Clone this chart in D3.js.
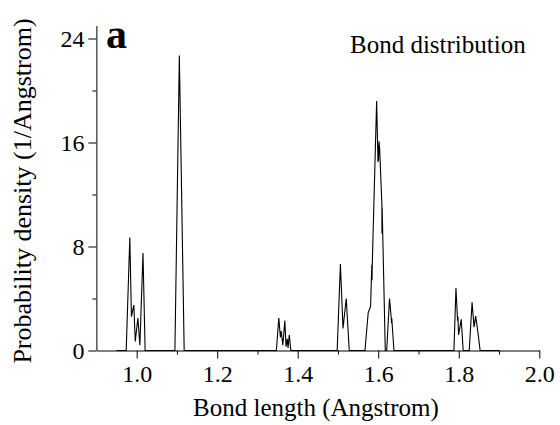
<!DOCTYPE html>
<html>
<head>
<meta charset="utf-8">
<script src="https://cdn.jsdelivr.net/npm/d3@7"></script>
<style>
  html, body { margin: 0; padding: 0; background: #fff; }
  svg { display: block; }
  text { font-family: "Liberation Serif", "Times New Roman", serif; fill: #000; }
</style>
</head>
<body>
<svg id="chart" width="560" height="425"></svg>
<script>
// ---- data ----
const bondLength = [
  0.95, 0.974, 0.983, 0.987, 0.993, 0.9965, 1.003, 1.008, 1.0157, 1.021,
  1.095, 1.106, 1.118,
  1.347, 1.353, 1.357, 1.359, 1.363, 1.368, 1.371, 1.374, 1.376, 1.379, 1.383,
  1.498, 1.506, 1.5125, 1.5205, 1.528,
  1.567, 1.575, 1.581, 1.584, 1.5845, 1.585, 1.596, 1.5994, 1.6003, 1.6006, 1.602, 1.6035, 1.609, 1.6093, 1.6097, 1.6175,
  1.621, 1.628, 1.6325, 1.633, 1.6335, 1.639,
  1.788, 1.793, 1.797, 1.798, 1.7995, 1.806, 1.811,
  1.826, 1.833, 1.838, 1.842, 1.848, 1.853, 1.90
];
const density = [
  0, 0, 8.7, 2.6, 3.5, 0.7, 2.5, 0.4, 7.5, 0,
  0, 22.7, 0,
  0, 2.5, 1.0, 1.5, 0.4, 2.3, 0.3, 0.9, 0.2, 1.2, 0,
  0, 6.65, 1.7, 4.0, 0,
  0, 2.9, 3.4, 6.6, 5.4, 6.4, 19.2, 14.5, 15.8, 14.6, 16.1, 15.5, 11.3, 9.0, 11.0, 0,
  0, 4.0, 2.4, 2.1, 2.5, 0,
  0, 4.8, 2.3, 2.6, 1.2, 2.4, 0,
  0, 3.7, 1.8, 2.65, 1.3, 0, 0
];
const xMajorTicks = [1.0, 1.2, 1.4, 1.6, 1.8, 2.0];
const xMinorTicks = [1.1, 1.3, 1.5, 1.7, 1.9];
const yMajorTicks = [0, 8, 16, 24];
const yMinorTicks = [4, 12, 20];
const xTitle = "Bond length (Angstrom)";
const yTitle = "Probability density (1/Angstrom)";
const panelLabel = "a";
const legendText = "Bond distribution";

// ---- layout ----
const svg = d3.select("#chart");
const x = d3.scaleLinear().domain([0.9, 2.0]).range([96.4, 539.3]);
const y = d3.scaleLinear().domain([0, 25]).range([350.5, 25.5]);

svg.append("rect").attr("width", 560).attr("height", 425).attr("fill", "#fff");

// line
const pts = bondLength.map((b, i) => [b, density[i]]);
svg.append("path")
  .datum(pts)
  .attr("fill", "none")
  .attr("stroke", "#000")
  .attr("stroke-width", 1.1)
  .attr("stroke-linejoin", "miter")
  .attr("d", d3.line().x(d => x(d[0])).y(d => y(d[1])));

// axes
const fs = 24;
svg.append("g").attr("transform", `translate(0,${y(0)})`)
  .call(d3.axisBottom(x).tickValues(xMajorTicks).tickFormat(d3.format(".1f"))
    .tickSize(8).tickSizeOuter(0).tickPadding(6));
svg.append("g").attr("transform", `translate(0,${y(0)})`)
  .call(d3.axisBottom(x).tickValues(xMinorTicks).tickFormat("")
    .tickSize(4).tickSizeOuter(0))
  .select(".domain").remove();

svg.append("g").attr("transform", `translate(${x(0.9)},0)`)
  .call(d3.axisLeft(y).tickValues(yMajorTicks).tickFormat(d3.format("d"))
    .tickSize(8).tickSizeOuter(0).tickPadding(4));
svg.append("g").attr("transform", `translate(${x(0.9)},0)`)
  .call(d3.axisLeft(y).tickValues(yMinorTicks).tickFormat("")
    .tickSize(4).tickSizeOuter(0))
  .select(".domain").remove();

svg.selectAll(".tick text")
  .style("font-family", '"Liberation Serif", serif')
  .style("font-size", fs + "px")
  .attr("fill", "#000");
svg.selectAll(".domain, .tick line").attr("stroke", "#000").attr("stroke-width", 1);

// titles
svg.append("text")
  .attr("x", 316).attr("y", 416)
  .attr("text-anchor", "middle")
  .style("font-size", "25px")
  .text(xTitle);

svg.append("text")
  .attr("transform", "translate(31,191) rotate(-90)")
  .attr("text-anchor", "middle")
  .style("font-size", "26px")
  .text(yTitle);

svg.append("text")
  .attr("x", 106).attr("y", 48)
  .style("font-size", "42px")
  .style("font-weight", "bold")
  .text(panelLabel);

svg.append("text")
  .attr("x", 350).attr("y", 53)
  .style("font-size", "25px")
  .text(legendText);
</script>
</body>
</html>
